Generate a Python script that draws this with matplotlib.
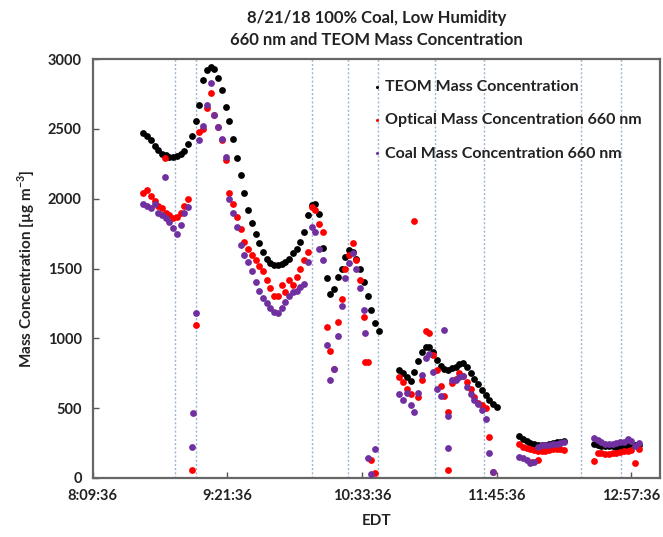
import matplotlib
matplotlib.use("Agg")
import matplotlib.pyplot as plt
from matplotlib.ticker import FuncFormatter, MultipleLocator
import numpy as np

plt.rcParams['font.family'] = ['Lato', 'DejaVu Sans']
plt.rcParams['font.weight'] = 'bold'

# sampling step of the listed series, minutes
step = 2

# segment start times (EDT)
seg_starts = ["8:36:36", "10:53:36", "11:57:36", "12:37:36"]

teom = [
    [2470, 2450, 2420, 2380, 2350, 2320, 2310, 2300, 2300, 2305, 2320, 2345, 2390,
     2450, 2560, 2670, 2850, 2920, 2940, 2930, 2865, 2780, 2660, 2560, 2430, 2290,
     2170, 2040, 1920, 1825, 1745, 1680, 1620, 1570, 1540, 1525, 1525, 1535, 1550,
     1565, 1610, 1640, 1690, 1760, 1880, 1955, 1960, 1890, 1650, 1430, 1320, 1350,
     1440, 1500, 1580, 1630, 1620, 1570, 1500, 1400, 1300, 1200, 1110, 1050],
    [770, 750, 720, 695, 760, 840, 905, 940, 940, 905, 845, 800, 780, 775, 785,
     795, 815, 820, 795, 750, 705, 670, 630, 595, 560, 530, 505],
    [300, 280, 262, 250, 240, 235, 235, 235, 240, 248, 255, 260, 262],
    [240, 235, 232, 230, 228, 226, 225, 225, 226, 228, 232, 235, 238],
]

optical = [
    [2040, 2060, 2020, 1980, 1950, 1930, 1900, 1880, 1860, 1870, 1900, 1950, 2000,
     60, 1095, 2480, 2500, 2650, 2760, 2600, 2510, 2420, 2280, 2040, 1960, 1870,
     1780, 1690, 1640, 1600, 1560, 1520, 1480, 1420, 1360, 1300, 1300, 1380, 1330,
     1420, 1380, 1440, 1500, 1560, 1620, 1940, 1920, 1820, 1760, 1080, 910, 780,
     1120, 1280, 1500, 1600, 1680, 1560, 1420, 1150, 830, 130, 35, np.nan],
    [720, 690, 640, 600, 1840, 580, 700, 1050, 1040, 880, 770, 660, 590, 475, 680,
     710, 750, 730, 690, 640, 580, 540, 520, 500, 295, 40, np.nan],
    [240, 225, 215, 205, 200, 195, 195, 195, 200, 205, 210, 205, 200],
    [120, 180, 175, 170, 170, 175, 180, 185, 190, 195, 200, 110, 205],
]

coal = [
    [1960, 1950, 1930, 1960, 1900, 1880, 1860, 1830, 1790, 1750, 1810, 1900, 1940,
     220, 1180, 2420, 2520, 2670, 2830, 2600, 2510, 2430, 2300, 2000, 1900, 1800,
     1670, 1600, 1550, 1480, 1400, 1340, 1290, 1250, 1220, 1190, 1180, 1220, 1260,
     1300, 1330, 1340, 1370, 1390, 1550, 1800, 1760, 1640, 1560, 950, 700, 780,
     1020, 1230, 1430, 1540, 1610, 1500, 1360, 1200, 140, 30, 210, np.nan],
    [600, 560, 610, 520, 470, 610, 740, 860, 890, 760, 640, 590, 1060, 440, 700,
     700, 720, 730, 650, 600, 560, 530, 490, 420, 180, 45, np.nan],
    [150, 140, 125, 110, 115, 225, 235, 235, 235, 240, 245, 250, 255],
    [285, 270, 255, 245, 240, 245, 250, 255, 260, 280, 265, 230, 250],
]

# single off-grid readings
optical_extra_t = ["8:48:06", "10:35:12", "11:19:36", "12:04:36", "12:07:48"]
optical_extra_v = [2290, 830, 55, 115, 130]
coal_extra_t = ["8:48:06", "9:03:06", "10:35:12", "11:19:36"]
coal_extra_v = [2155, 465, 1040, 215]

# condition change markers
event_times = ["8:53:48", "9:04:42", "10:06:36", "10:26:06", "10:42:12",
               "11:12:24", "11:38:54", "12:30:48", "12:52:12"]

x_start = "8:09:36"
x_tick_step = 72  # minutes
x_span = 303.5


def to_min(s):
    h, m, sec = [int(v) for v in s.split(":")]
    return h * 60 + m + sec / 60.0


def fmt_time(v, pos=None):
    total = int(round(v * 60))
    h, r = divmod(total, 3600)
    m, sec = divmod(r, 60)
    return f"{h}:{m:02d}:{sec:02d}"


def seg_times(start, n):
    return to_min(start) + step * np.arange(n)


fig = plt.figure(figsize=(6.63, 5.37), dpi=100)
ax = fig.add_axes([0.140, 0.110, 0.856, 0.780])

for t in event_times:
    ax.axvline(to_min(t), color="#9db6d2", lw=1.0, ls=(0, (1.5, 1.5)), zorder=1)

ms = 24
for i, start in enumerate(seg_starts):
    ax.scatter(seg_times(start, len(teom[i])), teom[i], s=ms, color="black",
               lw=0, zorder=3, label="TEOM Mass Concentration" if i == 0 else None)
for i, start in enumerate(seg_starts):
    ax.scatter(seg_times(start, len(optical[i])), optical[i], s=ms, color="#ff0000",
               lw=0, zorder=4, label="Optical Mass Concentration 660 nm" if i == 0 else None)
ax.scatter([to_min(t) for t in optical_extra_t], optical_extra_v, s=ms,
           color="#ff0000", lw=0, zorder=4)
for i, start in enumerate(seg_starts):
    ax.scatter(seg_times(start, len(coal[i])), coal[i], s=ms, color="#7030a0",
               lw=0, zorder=5, label="Coal Mass Concentration 660 nm" if i == 0 else None)
ax.scatter([to_min(t) for t in coal_extra_t], coal_extra_v, s=ms,
           color="#7030a0", lw=0, zorder=5)

x0 = to_min(x_start)
ax.set_xlim(x0, x0 + x_span)
ax.set_ylim(0, 3000)
ax.set_xticks([x0 + k * x_tick_step for k in range(5)])
ax.xaxis.set_major_formatter(FuncFormatter(fmt_time))
ax.yaxis.set_major_locator(MultipleLocator(500))

ax.tick_params(direction="in", length=4, width=1, colors="#555555",
               labelcolor="#222222", labelsize=10.5, pad=8)
for sp in ax.spines.values():
    sp.set_color("#666666")
    sp.set_linewidth(1.6)

ax.set_xlabel("EDT", fontsize=11, fontweight="bold", color="#222222", labelpad=8)
ax.set_ylabel("Mass Concentration [µg m$^{\\mathregular{-3}}$]", fontsize=11,
              fontweight="bold", color="#222222", labelpad=8)
ax.set_title("8/21/18 100% Coal, Low Humidity\n660 nm and TEOM Mass Concentration",
             fontsize=12, fontweight="bold", color="#222222", pad=10, linespacing=1.5)

leg = ax.legend(loc="upper left", bbox_to_anchor=(0.465, 0.985), frameon=False,
                fontsize=11.5, labelspacing=1.2, handletextpad=0.1,
                handlelength=0.8, markerscale=0.45)
for txt in leg.get_texts():
    txt.set_fontweight("bold")
    txt.set_color("#222222")

fig.savefig("out.png", dpi=100)
